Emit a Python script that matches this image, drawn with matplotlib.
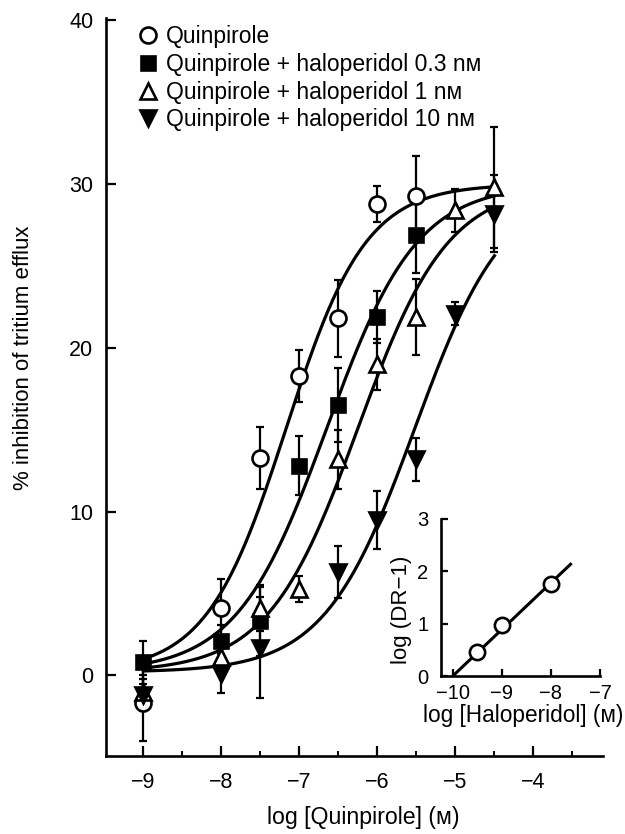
import numpy as np
import matplotlib
matplotlib.use('Agg')
import matplotlib.pyplot as plt
from matplotlib.ticker import MultipleLocator

plt.rcParams['font.family'] = ['Liberation Sans', 'DejaVu Sans']

# --- data -----------------------------------------------------------------
labels = ['Quinpirole',
          'Quinpirole + haloperidol 0.3 n\u1d0d',
          'Quinpirole + haloperidol 1 n\u1d0d',
          'Quinpirole + haloperidol 10 n\u1d0d']
markers = ['o', 's', '^', 'v']
faces = ['white', 'black', 'white', 'black']
sizes = [11.5, 10, 11.5, 11.5]

x_quin = [-9, -8, -7.5, -7, -6.5, -6, -5.5]
y_quin = [-1.7, 4.1, 13.3, 18.3, 21.8, 28.8, 29.3]
e_quin = [2.3, 1.8, 1.9, 1.6, 2.35, 1.1, 2.45]

x_h03 = [-9, -8, -7.5, -7, -6.5, -6, -5.5]
y_h03 = [0.8, 2.1, 3.3, 12.8, 16.5, 21.9, 26.9]
e_h03 = [1.3, 1.0, 2.1, 1.8, 2.25, 1.6, 2.35]

x_h1 = [-9, -8, -7.5, -7, -6.5, -6, -5.5, -5, -4.5]
y_h1 = [-1.0, 1.1, 4.1, 5.3, 13.2, 19.0, 21.9, 28.4, 29.8]
e_h1 = [1.0, 1.0, 1.4, 0.8, 1.8, 1.55, 2.3, 1.3, 3.7]

x_h10 = [-9, -8, -7.5, -6.5, -6, -5.5, -5, -4.5]
y_h10 = [-1.2, 0.1, 1.7, 6.3, 9.5, 13.2, 22.1, 28.2]
e_h10 = [1.0, 1.2, 3.1, 1.6, 1.75, 1.3, 0.7, 2.35]

# logistic fits (bottom, top, logEC50, Hill slope) for each curve
fit_bottom = 0.2
fit_top = 30.0
fit_logec50 = [-7.17, -6.65, -6.25, -5.52]
fit_slope = [0.85, 0.75, 0.75, 0.75]
curve_start, curve_end = -9.0, -4.5

# Schild plot (inset)
halo_log = [-9.5, -9.0, -8.0]
log_dr1 = [0.45, 0.97, 1.75]
schild_slope = 0.89
schild_xint = -10.0
schild_end = -7.6

series = [(x_quin, y_quin, e_quin), (x_h03, y_h03, e_h03),
          (x_h1, y_h1, e_h1), (x_h10, y_h10, e_h10)]

# --- figure ----------------------------------------------------------------
fig = plt.figure(figsize=(6.25, 8.34), dpi=100)
ax = fig.add_axes([0.1696, 0.0939, 0.795, 0.8845])

xc = np.linspace(curve_start, curve_end, 300)
for ec, n in zip(fit_logec50, fit_slope):
    yc = fit_bottom + (fit_top - fit_bottom) / (1 + 10 ** ((ec - xc) * n))
    ax.plot(xc, yc, color='black', lw=2.3, zorder=2)

handles = []
for (xs, ys, es), m, fc, ms, lab in zip(series, markers, faces, sizes, labels):
    ax.errorbar(xs, ys, yerr=es, fmt='none', ecolor='black', elinewidth=1.6,
                capsize=3.2, capthick=1.6, zorder=3)
    h, = ax.plot(xs, ys, linestyle='none', marker=m, markersize=ms,
                 markerfacecolor=fc, markeredgecolor='black',
                 markeredgewidth=1.9, zorder=4, label=lab)
    handles.append(h)

ax.set_xlim(-9.48, -3.11)
ax.set_ylim(-4.9, 40.15)
ax.set_xticks([-9, -8, -7, -6, -5, -4])
ax.set_xticklabels(['\u22129', '\u22128', '\u22127', '\u22126', '\u22125', '\u22124'])
ax.xaxis.set_minor_locator(MultipleLocator(0.5))
ax.set_yticks([0, 10, 20, 30, 40])
for side in ['top', 'right']:
    ax.spines[side].set_visible(False)
for side in ['left', 'bottom']:
    ax.spines[side].set_linewidth(1.9)
ax.tick_params(axis='both', which='major', direction='in', length=7, width=1.6,
               labelsize=15.5)
ax.tick_params(axis='x', which='minor', direction='in', length=3.5, width=1.4)
ax.tick_params(axis='x', which='major', pad=12)
ax.tick_params(axis='y', which='major', pad=9)

ax.set_xlabel('log [Quinpirole] (\u1d0d)', fontsize=16.7)
ax.xaxis.set_label_coords(0.517, -0.068)
ax.set_ylabel('% inhibition of tritium efflux', fontsize=16)
ax.yaxis.set_label_coords(-0.145, 0.54)

leg = ax.legend(handles=handles, loc='upper left', bbox_to_anchor=(0.063, 0.99),
                frameon=False, fontsize=16.5, handlelength=0.9, handletextpad=0.35,
                labelspacing=0.2, borderaxespad=0.0, borderpad=0.0)

# --- inset: Schild plot ----------------------------------------------------
ax2 = fig.add_axes([0.7056, 0.1894, 0.2544, 0.1883])
xs_line = np.array([schild_xint, schild_end])
ax2.plot(xs_line, schild_slope * (xs_line - schild_xint), color='black', lw=2.2,
         zorder=2)
ax2.plot(halo_log, log_dr1, linestyle='none', marker='o', markersize=11,
         markerfacecolor='white', markeredgecolor='black', markeredgewidth=1.9,
         zorder=3)
ax2.set_xlim(-10.24, -7.0)
ax2.set_ylim(0, 3)
ax2.set_xticks([-10, -9, -8, -7])
ax2.set_xticklabels(['\u221210', '\u22129', '\u22128', '\u22127'])
ax2.set_yticks([0, 1, 2, 3])
ax2.patch.set_alpha(0)
for side in ['top', 'right']:
    ax2.spines[side].set_visible(False)
for side in ['left', 'bottom']:
    ax2.spines[side].set_linewidth(1.9)
ax2.tick_params(axis='both', direction='in', length=5, width=1.6, labelsize=14.5)
ax2.tick_params(axis='x', pad=6)
ax2.tick_params(axis='y', pad=9)
ax2.set_xlabel('log [Haloperidol] (\u1d0d)', fontsize=16.3)
ax2.xaxis.set_label_coords(0.52, -0.18)
ax2.set_ylabel('log (DR\u22121)', fontsize=16)
ax2.yaxis.set_label_coords(-0.18, 0.42)

fig.savefig('out.png', dpi=100)
